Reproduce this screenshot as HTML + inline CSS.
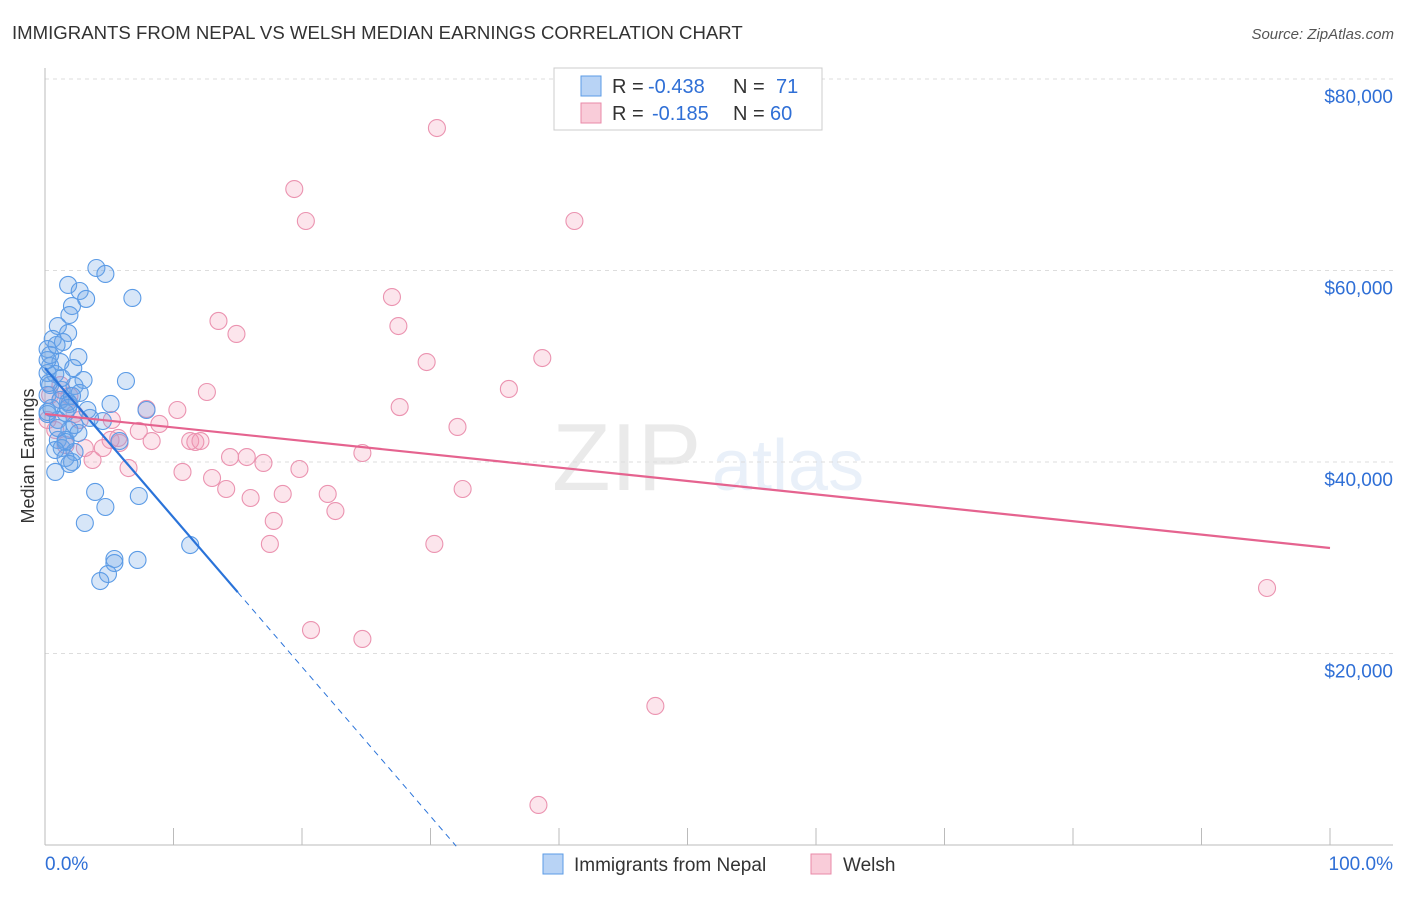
<!DOCTYPE html>
<html><head><meta charset="utf-8"><style>
body{margin:0;background:#fff;font-family:"Liberation Sans",sans-serif;}
svg text{font-family:"Liberation Sans",sans-serif;}
</style></head><body>
<svg id="chart" width="1406" height="892" xmlns="http://www.w3.org/2000/svg">
<text x="12" y="39" font-size="18.6" fill="#333">IMMIGRANTS FROM NEPAL VS WELSH MEDIAN EARNINGS CORRELATION CHART</text>
<text x="1394" y="39" font-size="15" fill="#555" text-anchor="end" font-style="italic">Source: ZipAtlas.com</text>
<g opacity="0.13">
<text x="552" y="490" font-size="96" font-family="Liberation Serif" fill="#666">ZIP</text>
<text x="712" y="490" font-size="72" fill="#5b8fd6">atlas</text>
</g>
<g id="grid"></g>
<g id="axes"></g>
<g id="marks"></g>
<text transform="translate(34,456) rotate(-90)" font-size="18" fill="#333" text-anchor="middle">Median Earnings</text>
<g>
<rect x="554" y="68" width="268" height="62" fill="#fff" stroke="#ccc"/>
<rect x="581" y="76" width="20" height="20" fill="#b8d3f5" stroke="#5b9be6"/>
<rect x="581" y="103" width="20" height="20" fill="#f9ccd9" stroke="#e98aa8"/>
<text x="612" y="93" font-size="20" fill="#333">R = <tspan x="648" fill="#2f6fd6">-0.438</tspan><tspan x="733">N = </tspan><tspan x="776" fill="#2f6fd6">71</tspan></text>
<text x="612" y="120" font-size="20" fill="#333">R = <tspan x="652" fill="#2f6fd6">-0.185</tspan><tspan x="733">N = </tspan><tspan x="770" fill="#2f6fd6">60</tspan></text>
</g>
<g>
<rect x="543" y="854" width="20" height="20" fill="#b8d3f5" stroke="#5b9be6"/>
<text x="574" y="871" font-size="19" fill="#333">Immigrants from Nepal</text>
<rect x="811" y="854" width="20" height="20" fill="#f9ccd9" stroke="#e98aa8"/>
<text x="843" y="871" font-size="19" fill="#333">Welsh</text>
</g>
</svg>
<script>
const yTicks=[20000,40000,60000,80000];
const yTickLabels=["$20,000","$40,000","$60,000","$80,000"];
const xTickLabels=["0.0%","100.0%"];
const nepalX=[4.0,4.7,1.8,2.7,3.2,6.8,2.1,1.9,1.0,1.8,0.6,1.4,0.2,2.6,1.2,0.4,2.2,0.2,0.8,3.0,6.3,0.4,2.3,1.3,0.2,2.7,1.2,1.9,5.1,7.9,0.2,1.6,1.0,4.5,2.3,1.9,5.8,1.0,1.6,1.3,2.3,2.1,0.8,3.9,4.7,3.1,7.3,11.3,5.4,5.4,7.2,4.9,4.3,0.2,0.5,1.8,3.5,2.6,1.6,0.8,1.6,1.9,1.0,0.2,0.4,1.3,3.3,2.1,0.9,0.3,1.8];
const nepalY=[60260,59640,58490,57860,57030,57130,56290,55350,54200,53470,52850,52530,51800,50960,50440,50020,49810,49290,49190,48560,48460,48040,47940,47520,47000,47210,46480,46060,46060,45430,45010,45120,44390,44280,43860,43340,42190,42300,42300,41460,41050,40000,38960,36870,35300,33630,36450,31330,29870,29450,29770,28300,27570,45220,45640,46270,44600,43030,42090,41250,40420,39790,43550,50650,51180,48770,45430,46900,52220,48250,45640];
const welshX=[30.5,19.4,20.3,41.2,27.0,13.5,14.9,27.5,29.7,38.7,36.1,12.6,27.6,10.3,32.1,7.9,8.9,5.2,11.3,11.7,12.1,7.3,8.3,5.8,4.5,3.7,1.2,1.9,2.3,0.8,3.1,14.4,15.7,17.0,24.7,19.8,6.5,10.7,13.0,14.1,16.0,18.5,22.0,22.6,32.5,17.8,17.5,30.3,20.7,24.7,47.5,38.4,95.1,0.4,0.2,1.6,1.2,2.7,5.1,5.7];
const welshY=[74880,68510,65170,65170,57230,54730,53370,54200,50440,50860,47630,47310,45740,45430,43660,45540,43970,44390,42190,42090,42190,43240,42190,41990,41460,40210,46480,46900,45010,43340,41460,40520,40520,39900,40940,39270,39370,38960,38330,37180,36240,36660,36660,34880,37180,33840,31440,31440,22450,21520,14520,4180,26840,47000,44390,41780,48040,44390,42300,42510];
const nepalTrend=[49800,-1560,15,32];
const welshTrend=[45010,31020];
const NS="http://www.w3.org/2000/svg";
function xs(v){return 45+v*12.85;}
function ys(v){return 845-v/20000*191.5;}
function mk(tag,attrs,parent){const e=document.createElementNS(NS,tag);for(const k in attrs)e.setAttribute(k,attrs[k]);parent.appendChild(e);return e;}
const grid=document.getElementById('grid'),axes=document.getElementById('axes'),marks=document.getElementById('marks');
yTicks.forEach((t,i)=>{
 const l=mk('line',{x1:45,x2:1393,y1:ys(t),y2:ys(t),stroke:'#ddd','stroke-dasharray':'4,4'},grid);
 
 
 const tx=mk('text',{x:1393,y:ys(t)+24,'font-size':19,fill:'#2f6fd6','text-anchor':'end'},axes);
 tx.textContent=yTickLabels[i];
 
 
});
const ya=mk('line',{x1:45,x2:45,y1:68,y2:845,stroke:'#bbb'},axes);


const xa=mk('line',{x1:45,x2:1393,y1:845,y2:845,stroke:'#bbb'},axes);


for(let i=0;i<=10;i++){
 const t=mk('line',{x1:xs(i*10),x2:xs(i*10),y1:828,y2:845,stroke:'#bbb'},axes);
 
 
}
const x0=mk('text',{x:45,y:870,'font-size':19,fill:'#2f6fd6','text-anchor':'start'},axes);x0.textContent=xTickLabels[0];


const x1=mk('text',{x:1393,y:870,'font-size':19,fill:'#2f6fd6','text-anchor':'end'},axes);x1.textContent=xTickLabels[1];


welshX.forEach((x,i)=>{
 const c=mk('circle',{cx:xs(x),cy:ys(welshY[i]),r:8.5,fill:'rgba(242,150,178,0.25)',stroke:'#eb93b0','stroke-width':1.1},marks);
 
 
});
nepalX.forEach((x,i)=>{
 const c=mk('circle',{cx:xs(x),cy:ys(nepalY[i]),r:8.5,fill:'rgba(110,165,230,0.28)',stroke:'#5b9be6','stroke-width':1.1},marks);
 
 
});
const nf=x=>nepalTrend[0]+nepalTrend[1]*x;
const b1=mk('line',{x1:xs(0),y1:ys(nf(0)),x2:xs(nepalTrend[2]),y2:ys(nf(nepalTrend[2])),stroke:'#2a73d9','stroke-width':2.2},marks);


const b2=mk('line',{x1:xs(nepalTrend[2]),y1:ys(nf(nepalTrend[2])),x2:xs(nepalTrend[3]),y2:ys(nf(nepalTrend[3])),stroke:'#2a73d9','stroke-width':1,'stroke-dasharray':'6,5'},marks);


const p1=mk('line',{x1:xs(0),y1:ys(welshTrend[0]),x2:xs(100),y2:ys(welshTrend[1]),stroke:'#e5638f','stroke-width':2.2},marks);


</script>
</body></html>
